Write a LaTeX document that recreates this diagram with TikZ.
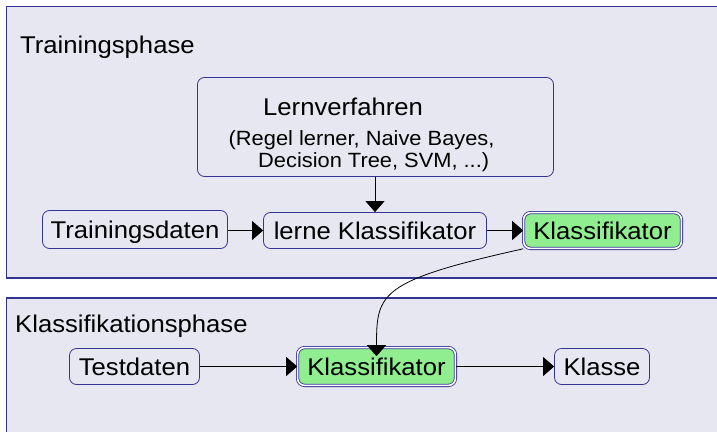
\documentclass[tikz,border=0pt]{standalone}
\usepackage{fontspec}
\setmainfont[FakeStretch=1.06]{Liberation Sans}
\usetikzlibrary{arrows.meta}
\definecolor{panelfill}{RGB}{231,231,241}
\definecolor{navy}{RGB}{52,52,150}
\definecolor{clsgreen}{RGB}{144,238,144}
\begin{document}
\begin{tikzpicture}[x=1pt,y=-1pt,
  box/.style={draw=navy, line width=0.8pt, rounded corners=7pt, inner sep=0pt,
    text height=17.5pt, text depth=0pt, font=\fontsize{24.2}{29}\selectfont},
  result/.style={box, fill=clsgreen, double=white, double distance=1.6pt},
  arr/.style={-{Triangle[length=11pt,width=19pt]}, line width=0.8pt, black},
  title/.style={anchor=base west, inner sep=0pt, font=\fontsize{24.2}{29}\selectfont},
  small/.style={anchor=base west, inner sep=0pt, font=\fontsize{20.6}{25}\selectfont},
  panel/.style={fill=panelfill, draw=navy, line width=1.2pt}]

\useasboundingbox (0,0) rectangle (717,431);
\clip (0,0) rectangle (717,431);

% the two phase panels
\draw[panel] (6.5,6.5) rectangle (740,278);
\draw[panel] (6.5,298) rectangle (740,460);

\node[title] (ttrain) at (20,53) {Trainingsphase};
\node[title] (tclass) at (15,332) {Klassifikationsphase};

% training phase
\node[box, minimum width=356pt, minimum height=99pt] (lv) at (375.5,127) {};
\node[title] (lvTitle) at (263,115) {Lernverfahren};
\node[small] (lvListA) at (228.5,145) {(Regel lerner, Naive Bayes,};
\node[small] (lvListB) at (258,167) {Decision Tree, SVM, ...)};

\node[box, minimum width=185pt, minimum height=38pt] (td) at (135,229.5) {Trainingsdaten};
\node[box, minimum width=223pt, minimum height=36pt] (lk) at (375,230.5) {lerne Klassifikator};
\node[result, minimum width=157.8pt, minimum height=35.8pt] (k1) at (602.5,230.5) {Klassifikator};

\draw[arr] (td.east |- lk) -- (lk.west);
\draw[arr] (lk.east) -- (k1.west);
\draw[arr] (lv.south -| lk.north) -- (lk.north);

% classification phase
\node[box, minimum width=130pt, minimum height=36pt] (te) at (134.5,366.5) {Testdaten};
\node[result, minimum width=157.8pt, minimum height=37.8pt] (k2) at (376.5,366.5) {Klassifikator};
\node[box, minimum width=95pt, minimum height=36pt] (kl) at (602,366.5) {Klasse};

\draw[arr] (te.east) -- (k2.west);
\draw[arr] (k2.east) -- (kl.west);

% the trained classifier is handed over
\draw[arr] (k1.south west) .. controls +(-144,32) and +(0,-63) .. ([yshift=-9pt]k2.north);
\end{tikzpicture}
\end{document}
